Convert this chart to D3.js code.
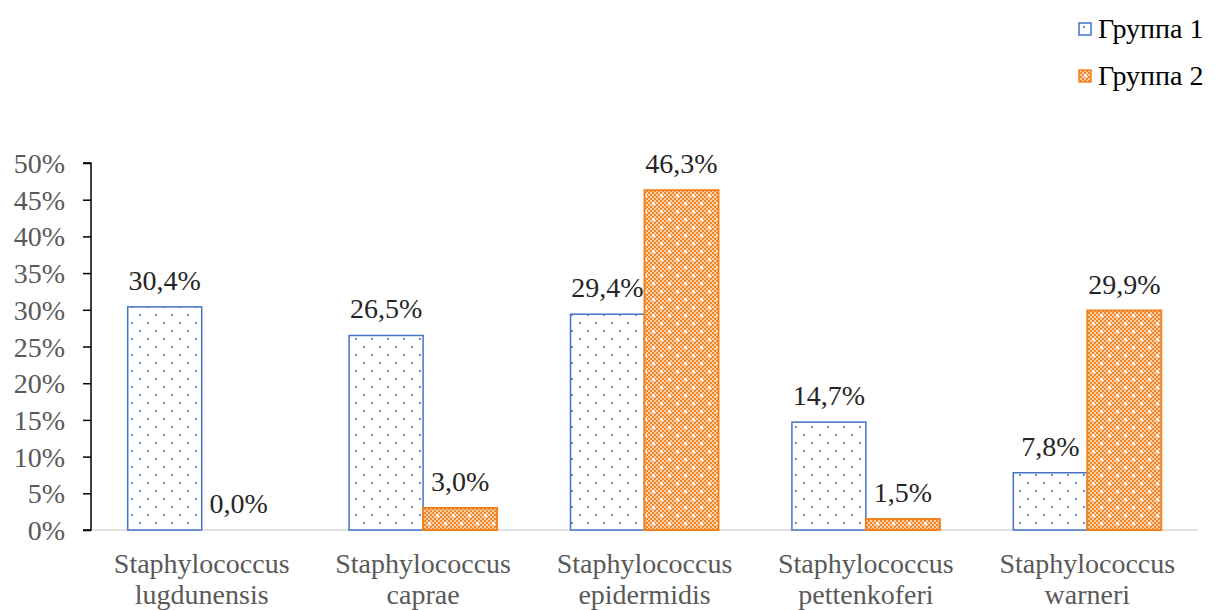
<!DOCTYPE html>
<html><head><meta charset="utf-8">
<script src="https://cdn.jsdelivr.net/npm/d3@7/dist/d3.min.js"></script>
<style>body{margin:0;background:#fff}svg{display:block}</style>
</head><body>
<svg id="c" width="1215" height="610"></svg>
<script>
const categories = [["Staphylococcus","lugdunensis"],["Staphylococcus","caprae"],["Staphylococcus","epidermidis"],["Staphylococcus","pettenkoferi"],["Staphylococcus","warneri"]];
const group1 = [30.4, 26.5, 29.4, 14.7, 7.8];
const group2 = [0.0, 3.0, 46.3, 1.5, 29.9];
const seriesNames = ["Группа 1", "Группа 2"];
const yTicks = [0,5,10,15,20,25,30,35,40,45,50];

const svg = d3.select("#c");
const font = '"Times New Roman", Times, Tinos, "Liberation Serif", "Noto Serif", "DejaVu Serif", FreeSerif, serif';
const fs = "28px";
const defs = svg.append("defs");
// blue dotted pattern
const pb = defs.append("pattern").attr("id","pBlue").attr("patternUnits","userSpaceOnUse").attr("width",16).attr("height",16);
pb.append("rect").attr("width",16).attr("height",16).attr("fill","#fff");
[[3,2],[11,10]].forEach(([x,y])=>pb.append("rect").attr("x",x).attr("y",y).attr("width",1.8).attr("height",1.8).attr("fill","#4472C4"));
// orange checker pattern
const po = defs.append("pattern").attr("id","pOrange").attr("patternUnits","userSpaceOnUse").attr("width",16).attr("height",16);
po.append("rect").attr("width",16).attr("height",16).attr("fill","#F4A262");
for(let i=0;i<8;i++)for(let j=0;j<8;j++){
  po.append("rect").attr("x",i*2).attr("y",j*2).attr("width",2).attr("height",2)
    .attr("fill",(i+j)%2===0?"#F08526":"#FBD2AC");
}
[[4,2],[12,10]].forEach(([x,y])=>po.append("rect").attr("x",x).attr("y",y).attr("width",3).attr("height",3).attr("fill","#fff"));

const x0 = d3.scaleBand().domain(d3.range(categories.length)).range([91,1198]).paddingInner(0).paddingOuter(0);
const x1 = d3.scaleBand().domain([0,1]).range([x0.bandwidth()/2-74, x0.bandwidth()/2+74]).paddingInner(0).paddingOuter(0);
const y = d3.scaleLinear().domain([0,50]).range([530,163]);

// baseline
svg.append("line").attr("x1",91).attr("x2",1198).attr("y1",y(0)).attr("y2",y(0)).attr("stroke","#D9D9D9").attr("stroke-width",1.5);

// y axis
const yAxis = d3.axisLeft(y).tickValues(yTicks).tickSize(8).tickFormat(d=>d+"%");
const ga = svg.append("g").attr("transform","translate(91,0)").call(yAxis);
ga.attr("font-family",null).attr("font-size",null);
ga.select(".domain").attr("stroke","#000").attr("stroke-width",1.5).attr("d","M-8,"+y(50)+"H0V"+y(0)+"H-8");
ga.selectAll(".tick line").attr("stroke","#000").attr("stroke-width",1.5);
ga.selectAll(".tick text").attr("x",-26).attr("dy","0.34em").attr("fill","#595959").style("font-family",font).style("font-size",fs);

const data = [group1, group2];
const fills = ["url(#pBlue)","url(#pOrange)"];
const strokes = ["#4472C4","#F5821F"];
data.forEach((vals,s)=>{
  const g = svg.append("g");
  g.selectAll("rect").data(vals).join("rect")
    .attr("x",(d,i)=>x0(i)+x1(s)).attr("width",x1.bandwidth())
    .attr("y",d=>y(d)).attr("height",d=>y(0)-y(d))
    .attr("fill",fills[s]).attr("stroke",d=>d>0?strokes[s]:"none").attr("stroke-width",s===0?1.5:2);
});
data.forEach((vals,s)=>{
  svg.append("g").selectAll("text").data(vals).join("text")
    .attr("x",(d,i)=>x0(i)+x1(s)+x1.bandwidth()/2).attr("y",d=>y(d)-17)
    .attr("text-anchor","middle").attr("fill","#262626")
    .style("font-family",font).style("font-size",fs)
    .text(d=>d.toFixed(1).replace(".",",")+"%");
});

// category labels
const gl = svg.append("g");
categories.forEach((c,i)=>{
  const cx = x0(i)+x0.bandwidth()/2;
  const t = gl.append("text").attr("x",cx).attr("y",573).attr("text-anchor","middle")
    .attr("fill","#595959").style("font-family",font).style("font-size",fs);
  c.forEach((line,k)=>t.append("tspan").attr("x",cx).attr("dy",k===0?0:31).text(line));
});

// legend
const lg = svg.append("g");
seriesNames.forEach((n,i)=>{
  const yy = 38 + i*47;
  lg.append("rect").attr("x",1079).attr("y",yy-15).attr("width",12).attr("height",12)
    .attr("fill",fills[i]).attr("stroke",strokes[i]).attr("stroke-width",1.5);
  lg.append("text").attr("x",1098).attr("y",yy).attr("fill","#000").style("font-family",font).style("font-size",fs).text(n);
});
</script>
</body></html>
